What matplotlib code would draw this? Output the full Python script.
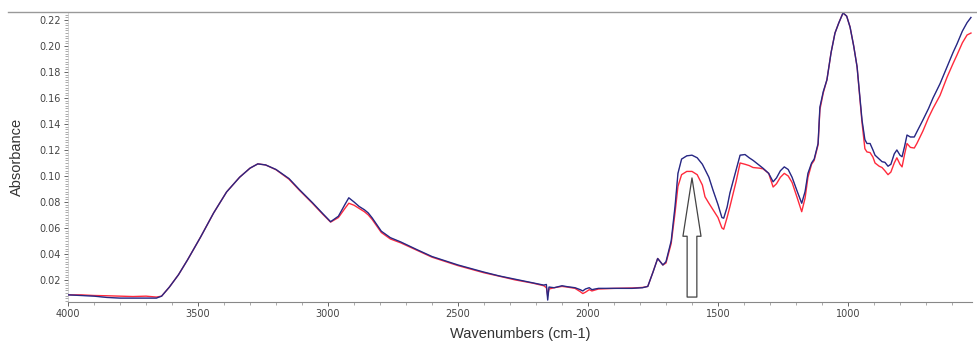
import matplotlib
matplotlib.use("Agg")
import matplotlib.pyplot as plt
from matplotlib.lines import Line2D
from matplotlib.ticker import MultipleLocator, FormatStrFormatter

# wavenumbers (cm-1) and absorbance
wavenumbers = [4000, 3950, 3900, 3850, 3800, 3750, 3700, 3660, 3640, 3610,
               3575, 3540, 3490, 3440, 3390, 3340, 3300, 3270, 3240, 3200,
               3150, 3110, 3060, 3020, 2990, 2960, 2935, 2920, 2900, 2880,
               2860, 2845, 2830, 2795, 2760, 2720, 2660, 2600, 2500, 2400,
               2340, 2280, 2212, 2170, 2160, 2155, 2150, 2130, 2100, 2080,
               2050, 2030, 2020, 2010, 1995, 1985, 1960, 1900, 1830, 1790,
               1770, 1750, 1732, 1712, 1700, 1680, 1665, 1654, 1640, 1620,
               1600, 1580, 1560, 1550, 1535, 1519, 1500, 1485, 1478, 1465,
               1454, 1430, 1415, 1396, 1380, 1365, 1340, 1327, 1305, 1288,
               1275, 1260, 1245, 1230, 1215, 1195, 1178, 1165, 1154, 1140,
               1130, 1115, 1108, 1095, 1081, 1065, 1050, 1035, 1019, 1005,
               992, 978, 965, 946, 935, 927, 915, 904, 896, 880,
               869, 858, 846, 835, 822, 812, 800, 792, 782, 773,
               760, 745, 735, 712, 690, 673, 646, 619, 596, 581,
               560, 542, 527]

sample_blue = [0.0085, 0.0080, 0.0075, 0.0065, 0.0060, 0.0060, 0.0060, 0.0060, 0.0075, 0.0145,
               0.0240, 0.0355, 0.0530, 0.0715, 0.0877, 0.0990, 0.1060, 0.1093, 0.1085, 0.1050,
               0.0980, 0.0895, 0.0795, 0.0710, 0.0648, 0.0690, 0.0780, 0.0832, 0.0800, 0.0765,
               0.0740, 0.0715, 0.0677, 0.0575, 0.0525, 0.0492, 0.0435, 0.0380, 0.0315, 0.0260,
               0.0230, 0.0205, 0.0177, 0.0160, 0.0165, 0.0045, 0.0145, 0.0140, 0.0155, 0.0148,
               0.0140, 0.0125, 0.0115, 0.0130, 0.0140, 0.0125, 0.0135, 0.0135, 0.0135, 0.0140,
               0.0150, 0.0260, 0.0365, 0.0315, 0.0340, 0.0500, 0.0770, 0.1020, 0.1130, 0.1155,
               0.1160, 0.1140, 0.1090, 0.1050, 0.0990, 0.0890, 0.0780, 0.0680, 0.0675, 0.0760,
               0.0870, 0.1050, 0.1160, 0.1165, 0.1140, 0.1120, 0.1080, 0.1060, 0.1020, 0.0955,
               0.0985, 0.1040, 0.1070, 0.1050, 0.0990, 0.0880, 0.0790, 0.0880, 0.1020, 0.1100,
               0.1130, 0.1250, 0.1530, 0.1650, 0.1740, 0.1950, 0.2100, 0.2180, 0.2255, 0.2230,
               0.2146, 0.2000, 0.1840, 0.1430, 0.1280, 0.1250, 0.1250, 0.1200, 0.1160, 0.1130,
               0.1110, 0.1105, 0.1075, 0.1090, 0.1170, 0.1200, 0.1160, 0.1148, 0.1230, 0.1315,
               0.1300, 0.1300, 0.1340, 0.1430, 0.1520, 0.1600, 0.1710, 0.1840, 0.1950, 0.2015,
               0.2115, 0.2180, 0.2220]

sample_red = [0.0085, 0.0085, 0.0080, 0.0078, 0.0075, 0.0072, 0.0075, 0.0068, 0.0075, 0.0145,
              0.0240, 0.0355, 0.0530, 0.0715, 0.0877, 0.0990, 0.1060, 0.1093, 0.1085, 0.1048,
              0.0975, 0.0890, 0.0790, 0.0705, 0.0645, 0.0680, 0.0750, 0.0790, 0.0775, 0.0750,
              0.0725, 0.0700, 0.0665, 0.0565, 0.0515, 0.0485, 0.0430, 0.0375, 0.0310, 0.0255,
              0.0228, 0.0200, 0.0175, 0.0155, 0.0140, 0.0080, 0.0130, 0.0140, 0.0150, 0.0145,
              0.0135, 0.0110, 0.0095, 0.0105, 0.0125, 0.0115, 0.0130, 0.0135, 0.0138, 0.0142,
              0.0150, 0.0260, 0.0365, 0.0315, 0.0330, 0.0480, 0.0720, 0.0920, 0.1010, 0.1035,
              0.1035, 0.1010, 0.0930, 0.0840, 0.0790, 0.0740, 0.0680, 0.0600, 0.0590, 0.0680,
              0.0765, 0.0960, 0.1100, 0.1090, 0.1080, 0.1065, 0.1060, 0.1055, 0.1020, 0.0915,
              0.0940, 0.0990, 0.1020, 0.1000, 0.0950, 0.0830, 0.0725, 0.0830, 0.0990, 0.1090,
              0.1120, 0.1240, 0.1510, 0.1640, 0.1740, 0.1950, 0.2100, 0.2180, 0.2255, 0.2230,
              0.2146, 0.2000, 0.1840, 0.1410, 0.1210, 0.1185, 0.1180, 0.1145, 0.1100, 0.1075,
              0.1065, 0.1040, 0.1010, 0.1030, 0.1100, 0.1140, 0.1090, 0.1070, 0.1170, 0.1250,
              0.1220, 0.1215, 0.1250, 0.1345, 0.1450, 0.1520, 0.1620, 0.1760, 0.1865, 0.1930,
              0.2025, 0.2085, 0.2100]

# arrow marking the band at 1600 cm-1
arrow_wn = 1600
arrow_tip = 0.0985
arrow_base = 0.0068

fig = plt.figure(figsize=(9.77, 3.43), dpi=100)
ax = fig.add_axes([68 / 977, 41 / 343, 904 / 977, 290 / 343])

ax.plot(wavenumbers, sample_blue, color='#3434a8', lw=1.0, zorder=3)
ax.plot(wavenumbers, sample_blue, color='#111111', lw=0.6, alpha=0.35, zorder=4)
ax.plot(wavenumbers, sample_red, color='#ff2a3c', lw=1.0, zorder=2)

ax.annotate('', xy=(arrow_wn, arrow_tip), xytext=(arrow_wn, arrow_base),
            arrowprops=dict(arrowstyle='simple,head_length=4.2,head_width=1.3,tail_width=0.7',
                            fc='white', ec='#444444', lw=0.9, shrinkA=0, shrinkB=0),
            zorder=5)

ax.set_xlim(4000, 523)
ax.set_ylim(0.003, 0.2262)

ax.xaxis.set_major_locator(MultipleLocator(500))
ax.xaxis.set_minor_locator(MultipleLocator(100))
ax.yaxis.set_major_locator(MultipleLocator(0.02))
ax.yaxis.set_minor_locator(MultipleLocator(0.002))
ax.yaxis.set_major_formatter(FormatStrFormatter('%.2f'))

for s in ['top', 'right']:
    ax.spines[s].set_visible(False)
ax.spines['bottom'].set_color('#888888')
ax.spines['bottom'].set_linewidth(0.8)
ax.spines['left'].set_color('#bbbbbb')
ax.spines['left'].set_linewidth(0.4)

ax.tick_params(axis='both', which='major', labelsize=7, labelcolor='#444444',
               color='#666666', length=3, width=0.7, pad=2)
ax.tick_params(axis='both', which='minor', color='#888888', length=2, width=0.5)

fig.add_artist(Line2D([8 / 977, 1.0], [331 / 343, 331 / 343],
                      transform=fig.transFigure, color='#999999', lw=1.0))

fig.text(17 / 977, 186 / 343, 'Absorbance', rotation=90, ha='center', va='center',
         fontsize=10.5, color='#333333', family='Liberation Sans')
fig.text(520 / 977, 2 / 343, 'Wavenumbers (cm-1)', ha='center', va='bottom',
         fontsize=10.5, color='#333333', family='Liberation Sans')

fig.savefig('out.png', dpi=100)
